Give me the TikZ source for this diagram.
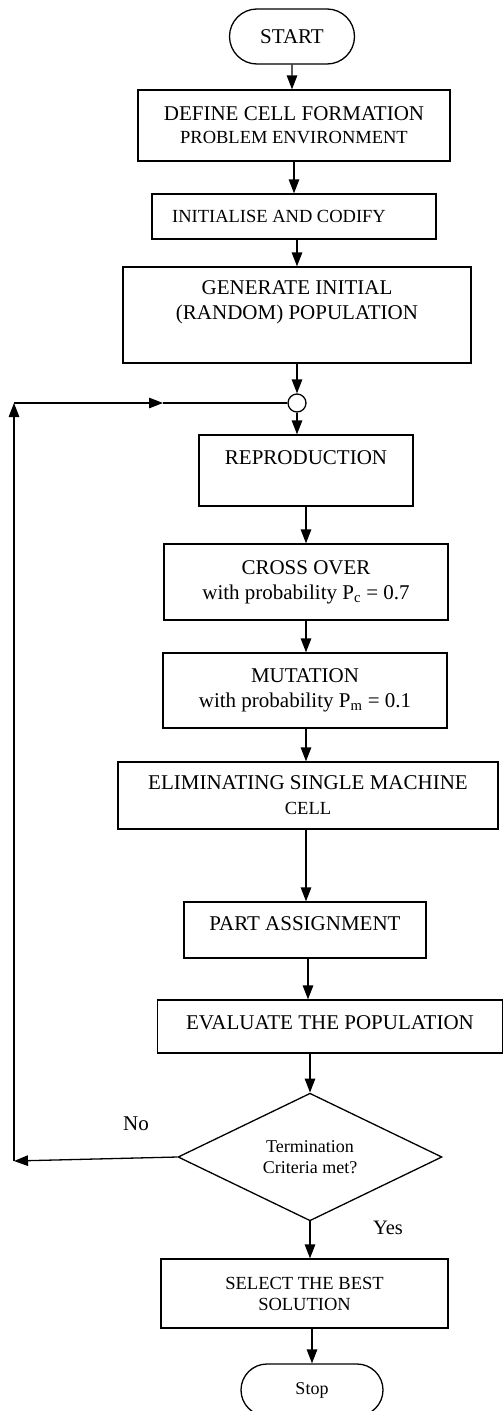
\documentclass[tikz,border=0pt]{standalone}
\usepackage{fontspec}
\setmainfont{Liberation Serif}
\usetikzlibrary{arrows.meta,shapes.geometric,shapes.misc}
\begin{document}
\begin{tikzpicture}[x=1pt,y=-1pt,
  line width=1.3pt,
  box/.style={draw,rectangle,inner sep=0pt},
  term/.style={draw,rounded rectangle,inner sep=0pt},
  arr/.style={-{Triangle[length=14pt,width=10.5pt]}},
  big/.style={font=\fontsize{21}{25}\selectfont,align=center},
  small/.style={font=\fontsize{18.5}{21}\selectfont,align=center},
  tiny/.style={font=\fontsize{18}{21}\selectfont,align=center}]
\useasboundingbox (0,0) rectangle (503,1411);

\node[term,minimum width=125,minimum height=55,big] (start) at (292,36.5) {START};
\node[box,minimum width=312,minimum height=71,big] (def) at (294,125.5) {DEFINE CELL FORMATION\\[-2pt]{\fontsize{18.5}{21}\selectfont PROBLEM ENVIRONMENT}};
\node[box,minimum width=284,minimum height=45] (init) at (294,216.5) {};
\node[small] (initt) at (279,216.5) {INITIALISE AND CODIFY};
\node[box,minimum width=348,minimum height=96] (gen) at (297,315) {};
\node[big] (gent) at (297,302) {GENERATE INITIAL\\(RANDOM) POPULATION};
\node[draw,circle,minimum size=18,inner sep=0pt] (circ) at (297,403) {};
\node[box,minimum width=214,minimum height=71] (repro) at (306,470.5) {};
\node[big] (reprot) at (306,458) {REPRODUCTION};
\node[box,minimum width=284,minimum height=76,big] (cross) at (306,582) {CROSS OVER\\with probability P\textsubscript{c} = 0.7};
\node[box,minimum width=284,minimum height=75,big] (mut) at (305,690.5) {MUTATION\\with probability P\textsubscript{m} = 0.1};
\node[box,minimum width=380,minimum height=67,big] (elim) at (308,795.5) {ELIMINATING SINGLE MACHINE\\{\fontsize{18.5}{21}\selectfont CELL}};
\node[box,minimum width=242,minimum height=56] (part) at (305,930) {};
\node[big] (partt) at (305,924) {PART ASSIGNMENT};
\node[box,minimum width=345,minimum height=53] (eval) at (330,1026.5) {};
\node[big] (evalt) at (330,1023) {EVALUATE THE POPULATION};
\node[draw,diamond,minimum width=264,minimum height=116,inner sep=0pt,tiny] (dia) at (310,1157) {Termination\\Criteria met?};
\node[box,minimum width=287,minimum height=69,small] (sel) at (304.5,1293.5) {SELECT THE BEST\\SOLUTION};
\node[term,minimum width=142,minimum height=52,tiny] (stop) at (312,1390) {Stop};
\node[big] (no) at (136,1124) {No};
\node[font=\fontsize{20.5}{24}\selectfont] (yes) at (388,1228) {Yes};

\draw[arr] (start) -- (start |- def.north);
\draw[arr] (def) -- (init);
\draw[arr] (init.south -| gen) -- (gen.north);
\draw[arr] (gen) -- (circ);
\draw[arr] (circ) -- (circ |- repro.north);
\draw[arr] (repro) -- (cross);
\draw[arr] (cross) -- (cross |- mut.north);
\draw[arr] (mut.south -| cross) -- (cross |- elim.north);
\draw[arr] (elim.south -| cross) -- (cross |- part.north);
\draw[arr] (part.south -| elim) -- (elim |- eval.north);
\draw[arr] (eval.south -| dia) -- (dia.north);
\draw[arr] (dia) -- (dia |- sel.north);
\draw[arr] (sel.south -| stop) -- (stop.north);

\coordinate (lb) at (14,1161);
\coordinate (lt) at (14,403);
\coordinate (lm) at (163,403);
\draw[arr] (dia.west) -- (lb);
\draw[arr] (lb) -- (lt);
\draw[arr] (lt) -- (lm);
\draw (lm) -- (circ.west);
\end{tikzpicture}
\end{document}
